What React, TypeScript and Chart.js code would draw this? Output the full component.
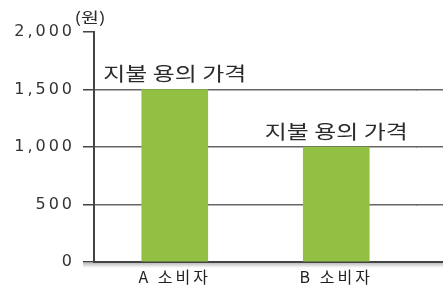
import React, { useEffect, useRef } from "react";
import { Chart, registerables } from "chart.js";
Chart.register(...registerables);

const categories = ["A 소비자", "B 소비자"];
const willingnessToPay = [1500, 1000];
const barLabel = "지불 용의 가격";
const yMin = 0;
const yMax = 2000;
const yStep = 500;
const unitLabel = "(원)";

const align = (p: number, w: number) => Math.round(p - w / 2) + w / 2;

export default function App() {
  const ref = useRef<HTMLCanvasElement>(null);
  useEffect(() => {
    document.body.style.margin = "0";
    const canvas = ref.current!;
    const extras = {
      id: "extras",
      beforeDraw(chart: any) {
        (chart.ctx as any).letterSpacing = "3px";
      },
      afterDraw(chart: any) {
        const { ctx, chartArea, scales } = chart;
        const y = scales.y;
        ctx.save();
        (ctx as any).letterSpacing = "0px";
        // extend horizontal rules to the right edge
        y.ticks.forEach((t: any) => {
          if (t.value === yMax) return;
          const w = t.value === 0 ? 2 : 1.5;
          const py = align(y.getPixelForValue(t.value), w);
          ctx.strokeStyle = t.value === 0 ? "#444" : "#666";
          ctx.lineWidth = w;
          ctx.beginPath();
          ctx.moveTo(chartArea.right - 1, py);
          ctx.lineTo(chart.width, py);
          ctx.stroke();
        });
        // soft shadow under the baseline
        const p0 = y.getPixelForValue(0);
        const g = ctx.createLinearGradient(0, p0 + 1, 0, p0 + 6);
        g.addColorStop(0, "rgba(0,0,0,0.25)");
        g.addColorStop(1, "rgba(0,0,0,0)");
        ctx.fillStyle = g;
        ctx.fillRect(chartArea.left - 11, p0 + 1, chart.width, 5);
        // labels above bars
        const meta = chart.getDatasetMeta(0);
        ctx.fillStyle = "#2b2b2b";
        ctx.font = '19px "Noto Sans CJK KR"';
        ctx.textAlign = "center";
        ctx.textBaseline = "bottom";
        meta.data.forEach((el: any) => {
          ctx.save();
          ctx.translate(el.x, el.y - 6);
          ctx.scale(1.26, 1);
          ctx.fillText(barLabel, 0, 0);
          ctx.restore();
        });
        // unit label
        ctx.font = '15px "Noto Sans CJK KR"';
        ctx.textAlign = "center";
        ctx.textBaseline = "middle";
        ctx.save();
        ctx.translate(chartArea.left - 4, chartArea.top - 15);
        ctx.scale(1.3, 1);
        ctx.fillText(unitLabel, 0, 0);
        ctx.restore();
        ctx.restore();
      },
    };
    const chart = new Chart(canvas, {
      type: "bar",
      data: {
        labels: categories,
        datasets: [
          {
            data: willingnessToPay,
            backgroundColor: "#92c043",
            borderWidth: 0,
            barThickness: 66,
          },
        ],
      },
      options: {
        animation: false,
        responsive: false,
        devicePixelRatio: 1,
        layout: { padding: { top: 32, right: 26, left: 0, bottom: 0 } },
        plugins: { legend: { display: false }, tooltip: { enabled: false } },
        scales: {
          x: {
            grid: { display: false, drawTicks: false },
            border: { display: true, color: "#444", width: 2 },
            ticks: {
              color: "#222",
              padding: 5,
              font: { family: '"Noto Sans CJK KR"', size: 16 },
            },
            afterFit: (s: any) => {
              s.height = 29;
            },
          },
          y: {
            z: 1,
            min: yMin,
            max: yMax,
            grid: {
              color: (c: any) => (c.tick && c.tick.value === yMax ? "rgba(0,0,0,0)" : "#666"),
              tickColor: "#444",
              lineWidth: 1.5,
              tickLength: 11,
            },
            border: { display: true, color: "#444", width: 2 },
            ticks: {
              stepSize: yStep,
              color: "#333",
              padding: 8,
              font: { family: '"DejaVu Sans"', size: 16 },
              callback: (v: any) => Number(v).toLocaleString("en-US"),
            },
            afterFit: (s: any) => {
              s.width = 94;
            },
          },
        },
      },
      plugins: [extras],
    });
    return () => chart.destroy();
  }, []);
  return (
    <div style={{ position: "absolute", left: 0, top: 0, width: 443, height: 291, background: "#fff" }}>
      <canvas ref={ref} width={443} height={291} />
    </div>
  );
}
